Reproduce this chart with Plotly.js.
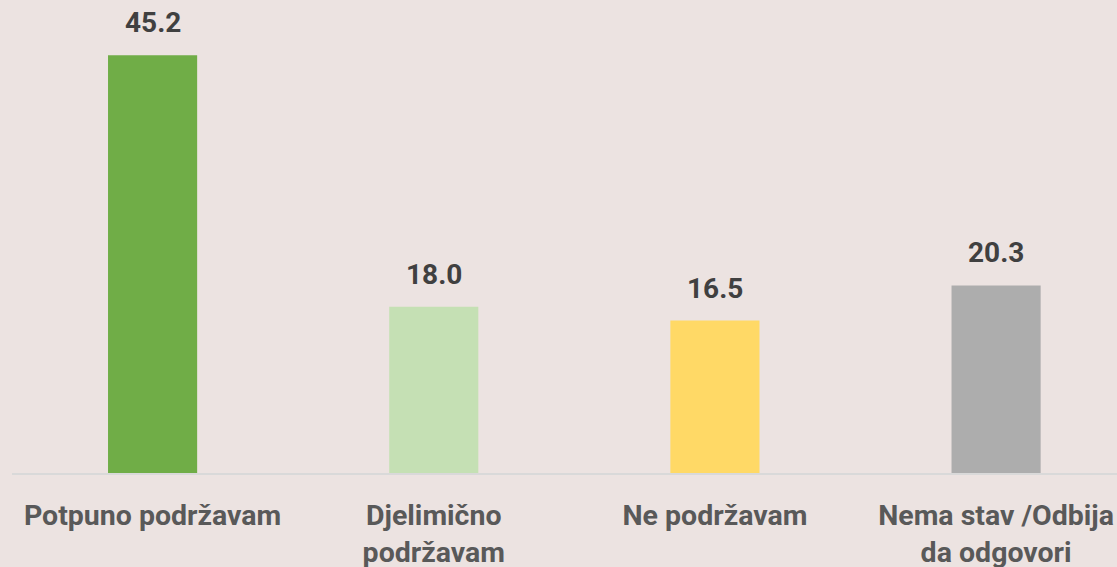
<!DOCTYPE html>
<html>
<head>
<meta charset="utf-8">
<script src="https://cdn.plot.ly/plotly-3.0.1.min.js"></script>
<style>html,body{margin:0;padding:0;background:#ECE3E1;}#chart{width:1117px;height:567px;}</style>
</head>
<body>
<div id="chart"></div>
<script>
var categories = ["Potpuno podržavam", "Djelimično<br>podržavam", "Ne podržavam", "Nema stav /Odbija<br>da odgovori"];
var values = [45.2, 18.0, 16.5, 20.3];
var barColors = ["#70AD47", "#C5E0B4", "#FFD966", "#ADADAD"];

var xIdx = categories.map(function (c, i) { return i; });

var trace = {
  type: "bar",
  x: xIdx,
  y: values,
  marker: { color: barColors },
  hoverinfo: "skip"
};

var annotations = values.map(function (v, i) {
  return {
    x: i, y: v, xref: "x", yref: "y",
    text: v.toFixed(1),
    showarrow: false,
    yanchor: "bottom",
    yshift: 14,
    font: { family: "Roboto, sans-serif", size: 28, color: "#404040", weight: 700 }
  };
});

var layout = {
  width: 1117,
  height: 567,
  margin: { l: 12, r: 0, t: 11, b: 94 },
  paper_bgcolor: "#ECE3E1",
  plot_bgcolor: "#ECE3E1",
  bargap: 0.683,
  showlegend: false,
  xaxis: {
    range: [-0.5, 3.43],
    tickmode: "array",
    tickvals: xIdx,
    ticktext: categories,
    tickangle: 0,
    ticks: "",
    ticklabelstandoff: 16,
    showline: true,
    linecolor: "#D9D9D9",
    linewidth: 1.5,
    showgrid: false,
    zeroline: false,
    automargin: false,
    fixedrange: true,
    tickfont: { family: "Roboto, sans-serif", size: 28.5, color: "#595959", weight: 700 }
  },
  yaxis: {
    range: [0, 50],
    visible: false,
    showgrid: false,
    zeroline: false,
    fixedrange: true
  },
  annotations: annotations
};

Plotly.newPlot("chart", [trace], layout, { displayModeBar: false, staticPlot: true });
</script>
</body>
</html>
